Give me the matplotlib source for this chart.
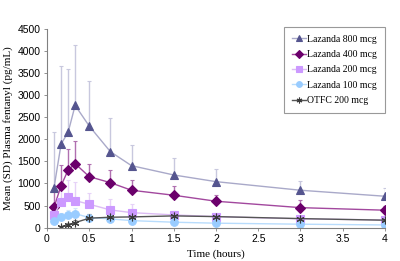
import matplotlib

matplotlib.use("Agg")

import matplotlib.pyplot as plt

TEMPOS = [0.083, 0.167, 0.25, 0.333, 0.5, 0.75, 1, 1.5, 2, 3, 4]
TEMPOS_OTFC = [0.167, 0.25, 0.333, 0.5, 0.75, 1, 1.5, 2, 3, 4]

MEDIA_800 = [905, 1894, 2158, 2769, 2300, 1720, 1403, 1192, 1041, 846, 710]
SD_800 = [1253, 1757, 1439, 1357, 1026, 760, 475, 378, 280, 217, 181]

MEDIA_400 = [461, 950, 1305, 1448, 1154, 1018, 846, 733, 597, 452, 394]
SD_400 = [392, 475, 469, 520, 280, 287, 233, 217, 143, 175, 97]

MEDIA_200 = [287, 588, 701, 611, 529, 400, 339, 287, 249, 197, 174]
SD_200 = [170, 303, 378, 430, 263, 242, 190, 98, 80, 70, 60]

MEDIA_100 = [152, 249, 287, 317, 226, 197, 158, 122, 100, 77, 60]
SD_100 = [60, 90, 110, 120, 90, 70, 60, 50, 40, 35, 30]

MEDIA_OTFC = [23, 54, 113, 213, 235, 242, 265, 249, 204, 167]
SD_OTFC = [20, 40, 60, 90, 110, 100, 90, 70, 60, 50]

SERIF = "Liberation Serif"
SANS = "Liberation Sans"

series = [
    ("Lazanda 800 mcg", TEMPOS, MEDIA_800, SD_800, "^", "#55558f", "#a9a9c9", "#c8c8de", 5.5),
    ("Lazanda 400 mcg", TEMPOS, MEDIA_400, SD_400, "D", "#6b006b", "#a2489e", "#b070b0", 5),
    ("Lazanda 200 mcg", TEMPOS, MEDIA_200, SD_200, "s", "#cc99ff", "#dcbcf4", "#e6d2f8", 5.5),
    ("Lazanda 100 mcg", TEMPOS, MEDIA_100, SD_100, "o", "#99ccff", "#b8dcfc", "#d0e6fa", 5.5),
    ("OTFC 200 mcg", TEMPOS_OTFC, MEDIA_OTFC, SD_OTFC, (6, 2, 0), "#3a3a3a", "#555555", "#888888", 5.5),
]

fig = plt.figure(figsize=(4, 2.61), dpi=100)
ax = fig.add_axes([0.1175, 0.128, 0.845, 0.761])

for nome, x, media, sd, marcador, cor, cor_linha, cor_erro, tam in series:
    ax.errorbar(
        x,
        media,
        yerr=[[0] * len(sd), sd],
        fmt="none",
        ecolor=cor_erro,
        elinewidth=1.0,
        capsize=1.5,
        capthick=0.8,
        zorder=1,
    )
    ax.plot(
        x,
        media,
        color=cor_linha,
        linewidth=1.0,
        marker=marcador,
        markersize=tam,
        markerfacecolor=cor,
        markeredgecolor=cor,
        markeredgewidth=0.8,
        label=nome,
        zorder=2,
    )

ax.set_xlim(0, 4)
ax.set_ylim(0, 4500)
ax.set_xticks([0, 0.5, 1, 1.5, 2, 2.5, 3, 3.5, 4])
ax.set_xticklabels(["0", "0.5", "1", "1.5", "2", "2.5", "3", "3.5", "4"])
ax.set_yticks(range(0, 4501, 500))

for lado in ["top", "right"]:
    ax.spines[lado].set_visible(False)
for lado in ["left", "bottom"]:
    ax.spines[lado].set_color("#808080")
    ax.spines[lado].set_linewidth(0.8)

ax.tick_params(axis="both", labelsize=7.5, length=2.5, width=0.6, color="#808080", pad=2)
for rotulo in ax.get_xticklabels() + ax.get_yticklabels():
    rotulo.set_fontfamily(SANS)

ax.set_xlabel("Time (hours)", fontsize=8, fontfamily=SERIF, labelpad=4)
ax.set_ylabel("Mean (SD) Plasma fentanyl (pg/mL)", fontsize=8, fontfamily=SERIF, labelpad=3)

legenda = ax.legend(
    loc="upper right",
    bbox_to_anchor=(1.0, 1.01),
    borderaxespad=0.0,
    prop={"family": SERIF, "size": 7},
    frameon=True,
    fancybox=False,
    edgecolor="#808080",
    handlelength=1.4,
    handletextpad=0.2,
    labelspacing=0.65,
    borderpad=0.8,
    markerscale=0.75,
)
legenda.get_frame().set_linewidth(0.8)

fig.savefig("out.png", dpi=100)
